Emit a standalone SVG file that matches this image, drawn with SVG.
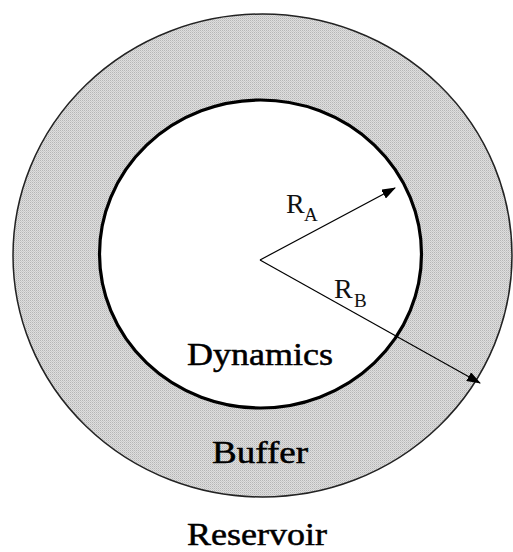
<svg xmlns="http://www.w3.org/2000/svg" width="513" height="552" viewBox="0 0 513 552">
  <defs>
    <pattern id="stipple" width="2" height="2" patternUnits="userSpaceOnUse">
      <rect width="2" height="2" fill="#dedede"/>
      <rect width="1" height="1" fill="#b6b6b6"/>
      <rect x="1" y="1" width="1" height="1" fill="#cacaca"/>
    </pattern>
    <marker id="arrow" markerWidth="14" markerHeight="10" refX="13" refY="5" orient="auto" markerUnits="userSpaceOnUse">
      <path d="M0,0 L14,5 L0,10 Z" fill="#000"/>
    </marker>
    <style>
      .big { font-family: "Liberation Serif", "Times New Roman", serif; font-size: 31px; fill: #000; stroke: #000; stroke-width: 0.5; }
      .r { font-family: "Liberation Serif", "Times New Roman", serif; font-size: 28px; fill: #111; }
      .sub { font-family: "Liberation Serif", "Times New Roman", serif; font-size: 19px; fill: #111; }
      .radius { stroke: #000; stroke-width: 1.2; fill: none; marker-end: url(#arrow); }
    </style>
  </defs>
  <rect width="513" height="552" fill="#fff"/>
  <g id="buffer-region">
    <ellipse cx="262.5" cy="255.5" rx="249.5" ry="241.5" fill="url(#stipple)" stroke="#222" stroke-width="1.5"/>
  </g>
  <g id="dynamics-region">
    <ellipse cx="260.5" cy="254" rx="161" ry="154" fill="#fff" stroke="#000" stroke-width="3.2"/>
  </g>
  <g id="connectors">
    <line class="radius" x1="260" y1="260" x2="395" y2="188"/>
    <line class="radius" x1="260" y1="260" x2="480" y2="383"/>
  </g>
  <g id="label-RA">
    <text class="r" x="286" y="213">R</text>
    <text class="sub" x="304" y="221">A</text>
  </g>
  <g id="label-RB">
    <text class="r" x="334" y="298">R</text>
    <text class="sub" x="354" y="307">B</text>
  </g>
  <g id="label-dynamics">
    <text class="big" x="187" y="365" textLength="146" lengthAdjust="spacingAndGlyphs">Dynamics</text>
  </g>
  <g id="label-buffer">
    <text class="big" x="212" y="463" textLength="96" lengthAdjust="spacingAndGlyphs">Buffer</text>
  </g>
  <g id="label-reservoir">
    <text class="big" x="187" y="545" textLength="140" lengthAdjust="spacingAndGlyphs">Reservoir</text>
  </g>
</svg>
